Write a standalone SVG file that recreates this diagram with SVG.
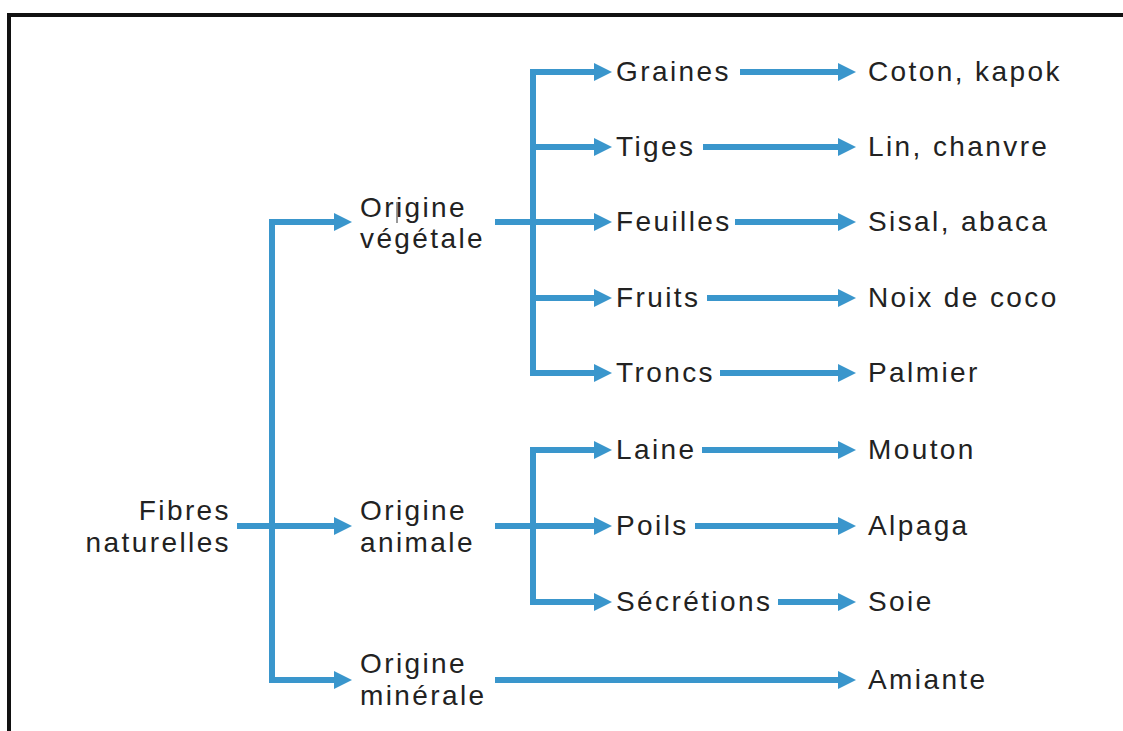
<svg xmlns="http://www.w3.org/2000/svg" width="1123" height="731" viewBox="0 0 1123 731">
<style>
.t{font-family:"Liberation Sans",Arial,sans-serif;font-size:28px;letter-spacing:2.4px;fill:#222}
.c{stroke:#3a96cc;stroke-width:6;fill:none}
.a{marker-end:url(#ah)}
</style>
<defs>
<marker id="ah" markerUnits="userSpaceOnUse" markerWidth="20" markerHeight="20" refX="1" refY="9" orient="auto" viewBox="0 0 20 20">
<path d="M0,0 L18,9 L0,18 Z" fill="#3a96cc"/>
</marker>
</defs>
<rect width="1123" height="731" fill="#fff"/>
<path d="M9,731 V15 H1123" stroke="#111" stroke-width="4" fill="none"/>
<g id="connectors">
<path class="c" d="M272,219 V683"/>
<path class="c a" d="M272,222 H335"/>
<path class="c a" d="M237,526 H335"/>
<path class="c a" d="M272,680 H335"/>
<path class="c" d="M533,69 V376"/>
<path class="c" d="M495,222 H533"/>
<path class="c a" d="M533,72 H595"/>
<path class="c a" d="M533,147 H595"/>
<path class="c a" d="M533,222 H595"/>
<path class="c a" d="M533,298 H595"/>
<path class="c a" d="M533,373 H595"/>
<path class="c" d="M533,447 V605"/>
<path class="c a" d="M533,450 H595"/>
<path class="c a" d="M495,526 H595"/>
<path class="c a" d="M533,602 H595"/>
<path class="c a" d="M495,680 H839"/>
<path class="c a" d="M740,72 H839"/>
<path class="c a" d="M703,147 H839"/>
<path class="c a" d="M735,222 H839"/>
<path class="c a" d="M707,298 H839"/>
<path class="c a" d="M720,373 H839"/>
<path class="c a" d="M702,450 H839"/>
<path class="c a" d="M695,526 H839"/>
<path class="c a" d="M778,602 H839"/>
</g>
<g id="fibres"><text class="t" x="231" y="520" text-anchor="end">Fibres</text><text class="t" x="231" y="552" text-anchor="end">naturelles</text></g>
<g id="vegetale"><text class="t" x="360" y="217">Origine</text><text class="t" x="360" y="248">végétale</text><line x1="397" y1="202" x2="397" y2="223" stroke="#333" stroke-width="1"/></g>
<g id="animale"><text class="t" x="360" y="520">Origine</text><text class="t" x="360" y="552">animale</text></g>
<g id="minerale"><text class="t" x="360" y="673">Origine</text><text class="t" x="360" y="705">minérale</text></g>
<g id="graines"><text class="t" x="616" y="81">Graines</text></g>
<g id="tiges"><text class="t" x="616" y="156">Tiges</text></g>
<g id="feuilles"><text class="t" x="616" y="231">Feuilles</text></g>
<g id="fruits"><text class="t" x="616" y="307">Fruits</text></g>
<g id="troncs"><text class="t" x="616" y="382">Troncs</text></g>
<g id="laine"><text class="t" x="616" y="459">Laine</text></g>
<g id="poils"><text class="t" x="616" y="535">Poils</text></g>
<g id="secretions"><text class="t" x="616" y="611">Sécrétions</text></g>
<g id="coton"><text class="t" x="868" y="81">Coton, kapok</text></g>
<g id="lin"><text class="t" x="868" y="156">Lin, chanvre</text></g>
<g id="sisal"><text class="t" x="868" y="231">Sisal, abaca</text></g>
<g id="noix"><text class="t" x="868" y="307">Noix de coco</text></g>
<g id="palmier"><text class="t" x="868" y="382">Palmier</text></g>
<g id="mouton"><text class="t" x="868" y="459">Mouton</text></g>
<g id="alpaga"><text class="t" x="868" y="535">Alpaga</text></g>
<g id="soie"><text class="t" x="868" y="611">Soie</text></g>
<g id="amiante"><text class="t" x="868" y="689">Amiante</text></g>
</svg>
